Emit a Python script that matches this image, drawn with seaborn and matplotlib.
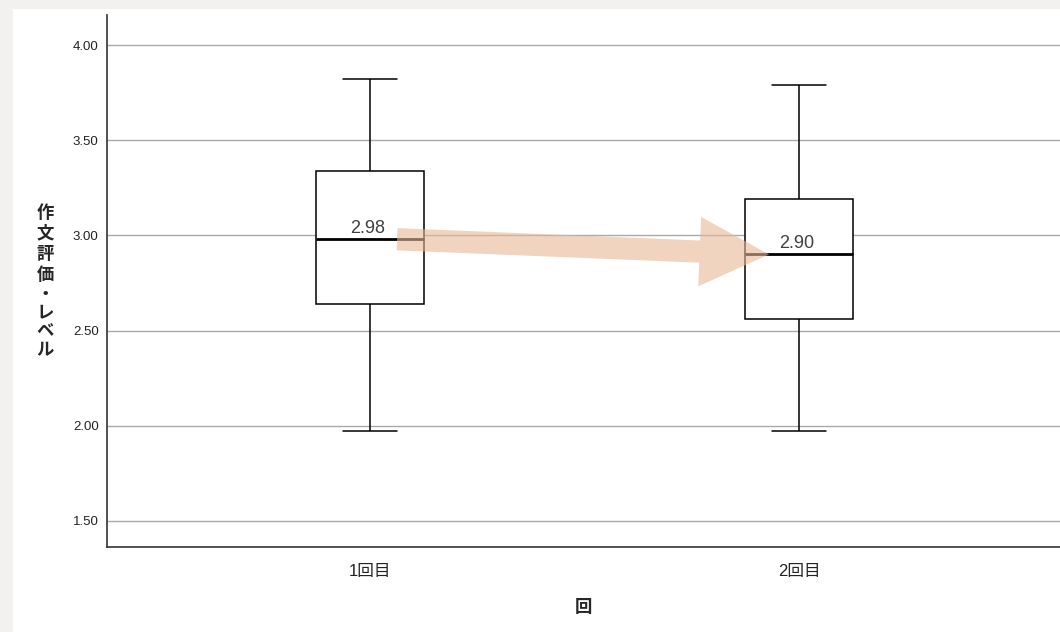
import matplotlib
matplotlib.use("Agg")
import matplotlib.pyplot as plt
from matplotlib.patches import Rectangle
import numpy as np
import pandas as pd
import seaborn as sns

# Five-number summaries of the essay scores for each round
categories = ["1回目", "2回目"]
whisker_low = [1.97, 1.97]
q1 = [2.64, 2.56]
medians = [2.98, 2.90]
q3 = [3.34, 3.19]
whisker_high = [3.82, 3.79]
y_ticks = [1.50, 2.00, 2.50, 3.00, 3.50, 4.00]

sns.set_theme(style="white")
plt.rcParams["font.family"] = ["Liberation Sans", "Noto Sans CJK JP", "DejaVu Sans"]

# One observation per summary point gives exact quartiles with linear percentiles
rows = []
for cat, lo, a, m, b, hi in zip(categories, whisker_low, q1, medians, q3, whisker_high):
    for v in (lo, a, m, b, hi):
        rows.append({"回": cat, "score": v})
df = pd.DataFrame(rows)

fig = plt.figure(figsize=(10.6, 6.32), dpi=100)
fig.patch.set_facecolor("white")
# light grey frame along the top and left edges
gray = "#f2f1ef"
fig.patches.append(Rectangle((0, 0), 13 / 1060, 1, transform=fig.transFigure,
                             facecolor=gray, edgecolor="none", zorder=-10))
fig.patches.append(Rectangle((0, 1 - 9 / 632), 1, 9 / 632, transform=fig.transFigure,
                             facecolor=gray, edgecolor="none", zorder=-10))

ax = fig.add_axes([107 / 1060, 85 / 632, 953 / 1060, 532 / 632])
ax.set_facecolor("none")

sns.boxplot(data=df, x="回", y="score", order=categories, width=0.25,
            color="white", linecolor="black", linewidth=1.1,
            medianprops=dict(linewidth=2.0, color="black"),
            whis=1.5, ax=ax, zorder=3)

ax.set_xlim(-0.613, 1.608)
ax.set_ylim(1.363, 4.158)
ax.set_yticks(y_ticks)
ax.set_yticklabels([f"{t:.2f}" for t in y_ticks])
ax.yaxis.grid(True, color="#a9a9a9", linewidth=1.0)
ax.set_axisbelow(True)

for side in ("top", "right"):
    ax.spines[side].set_visible(False)
for side in ("left", "bottom"):
    ax.spines[side].set_color("#333333")
    ax.spines[side].set_linewidth(1.2)

ax.tick_params(axis="y", length=0, pad=6, labelsize=9.5, labelcolor="#222222")
ax.tick_params(axis="x", length=0, pad=12, labelsize=12, labelcolor="#222222")

ax.set_xlabel("回", fontsize=12.5, fontweight="bold", labelpad=15)
ax.set_ylabel("\n".join("作文評価・レベル"), rotation=0, fontsize=12.5,
              fontweight="bold", linespacing=1.32, va="center", ha="center")
ax.yaxis.set_label_coords(-0.065, 0.5)

# Median value labels
for i, m in enumerate(medians):
    ax.annotate(f"{m:.2f}", xy=(i, m), xytext=(-2, 1.5), textcoords="offset points",
                ha="center", va="bottom", fontsize=13, color="#404040", zorder=6)

# Arrow showing the change of the median between rounds
ax.annotate("", xy=(0.93, medians[1]), xytext=(0.063, medians[0]),
            arrowprops=dict(arrowstyle="simple,head_length=2.5,head_width=2.5,tail_width=0.8",
                            mutation_scale=20, color="#e8b896", alpha=0.6,
                            shrinkA=0, shrinkB=0, linewidth=0),
            zorder=5)

fig.savefig("out.png", dpi=100)
